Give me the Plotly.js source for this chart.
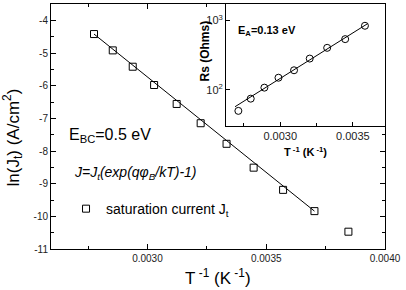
<!DOCTYPE html>
<html>
<head>
<meta charset="utf-8">
<script src="https://cdn.plot.ly/plotly-3.0.1.min.js"></script>
<style>
  html, body { margin: 0; padding: 0; background: #fff; }
  #chart { width: 406px; height: 290px; }
</style>
</head>
<body>
<div id="chart"></div>
<script>
// Saturation current vs inverse temperature (main panel)
const invT = [0.002775, 0.002854, 0.002938, 0.003028, 0.003123, 0.003224,
              0.003333, 0.003447, 0.003571, 0.003703, 0.003846];
const lnJt = [-4.42, -4.92, -5.42, -5.98, -6.56, -7.15,
              -7.78, -8.51, -9.19, -9.84, -10.47];
// Arrhenius fit through the saturation current points
const fitX = [0.002775, 0.003703];
const fitY = [-4.42, -9.84];

// Series resistance vs inverse temperature (inset)
const insetInvT = [0.002712, 0.002797, 0.002891, 0.002988, 0.003095,
                   0.003203, 0.003323, 0.003447, 0.003583];
const rs = [50, 75, 108, 150, 192, 283, 404, 539, 839];
const insetFitX = [0.002689, 0.003600];
const insetFitY = [57.4, 896];

// Tick labels
const yTickVals = [-11, -10, -9, -8, -7, -6, -5, -4];
const yTickText = ['-11', '-10', '-9', '-8', '-7', '-6', '-5', '-4'];
const insetYTickVals = [100, 1000];
const insetYTickText = ['10<sup>2</sup>', '10<sup>3</sup>'];

const FONT = 'Arial, "Liberation Sans", sans-serif';

const traces = [
  {
    x: fitX, y: fitY, type: 'scatter', mode: 'lines',
    line: { color: '#000', width: 1 }, showlegend: false, hoverinfo: 'skip'
  },
  {
    x: invT, y: lnJt, type: 'scatter', mode: 'markers',
    name: 'saturation current J<sub>t</sub>',
    marker: { symbol: 'square-open', size: 7, color: '#000', line: { width: 1, color: '#000' } }
  },
  {
    x: insetFitX, y: insetFitY, xaxis: 'x2', yaxis: 'y2',
    type: 'scatter', mode: 'lines',
    line: { color: '#000', width: 1 }, showlegend: false, hoverinfo: 'skip'
  },
  {
    x: insetInvT, y: rs, xaxis: 'x2', yaxis: 'y2',
    type: 'scatter', mode: 'markers', showlegend: false,
    marker: { symbol: 'circle-open', size: 7, color: '#000', line: { width: 1, color: '#000' } }
  }
];

const layout = {
  width: 406, height: 290,
  margin: { l: 51, r: 21, t: 4, b: 41 },
  paper_bgcolor: '#fff', plot_bgcolor: '#fff',
  font: { family: FONT, color: '#000' },
  showlegend: true,
  legend: {
    x: 0.045, y: 0.163, xanchor: 'left', yanchor: 'middle',
    bgcolor: 'rgba(0,0,0,0)', borderwidth: 0,
    font: { family: FONT, size: 14, color: '#000' }
  },
  xaxis: {
    range: [0.002594, 0.0040],
    domain: [0, 1],
    tickmode: 'linear', tick0: 0, dtick: 0.0005, tickformat: '.4f',
    ticks: 'inside', ticklen: 5, tickcolor: '#000', tickwidth: 1,
    minor: { dtick: 0.00025, tick0: 0, ticks: 'inside', ticklen: 3, tickcolor: '#000' },
    showline: true, linecolor: '#000', linewidth: 1, mirror: 'ticks',
    showgrid: false, zeroline: false,
    tickfont: { family: FONT, size: 10, color: '#222' }
  },
  yaxis: {
    range: [-11, -3.5],
    domain: [0, 1],
    tickmode: 'array', tickvals: yTickVals, ticktext: yTickText,
    ticks: 'inside', ticklen: 5, tickcolor: '#000', tickwidth: 1,
    minor: { dtick: 0.5, tick0: 0, ticks: 'inside', ticklen: 3, tickcolor: '#000' },
    showline: true, linecolor: '#000', linewidth: 1, mirror: 'ticks',
    showgrid: false, zeroline: false,
    tickfont: { family: FONT, size: 10, color: '#222' }
  },
  xaxis2: {
    anchor: 'y2',
    domain: [0.524, 1],
    range: [0.002627, 0.003721],
    tickmode: 'linear', tick0: 0, dtick: 0.0005, tickformat: '.4f',
    ticks: 'inside', ticklen: 4, tickcolor: '#000',
    minor: { dtick: 0.00025, tick0: 0, ticks: 'inside', ticklen: 3, tickcolor: '#000' },
    showline: true, linecolor: '#000', linewidth: 1, mirror: false,
    showgrid: false, zeroline: false,
    tickfont: { family: FONT, size: 11, color: '#222' },
    title: { text: '<b>T<sup> -1</sup> (K<sup> -1</sup>)</b>', font: { family: FONT, size: 11, color: '#000' }, standoff: 7 }
  },
  yaxis2: {
    anchor: 'x2',
    domain: [0.503, 1],
    type: 'log',
    range: [1.485, 3.237],
    tickmode: 'array', tickvals: insetYTickVals, ticktext: insetYTickText,
    ticks: 'inside', ticklen: 4, tickcolor: '#000',
    showline: true, linecolor: '#000', linewidth: 1, mirror: false,
    showgrid: false, zeroline: false,
    tickfont: { family: FONT, size: 11, color: '#222' }
  },
  annotations: [
    {
      // main x-axis title
      xref: 'paper', yref: 'paper', x: 0.5, y: -0.166,
      text: 'T<sup> -1</sup> (K<sup> -1</sup>)', showarrow: false,
      xanchor: 'center', yanchor: 'bottom',
      font: { family: FONT, size: 17, color: '#000' }
    },
    {
      // main y-axis title
      xref: 'paper', yref: 'paper', x: -0.114, y: 0.455,
      text: 'ln(J<sub>t</sub>) (A/cm<sup>2</sup>)', textangle: -90, showarrow: false,
      xanchor: 'center', yanchor: 'middle',
      font: { family: FONT, size: 17, color: '#000' }
    },
    {
      // inset y-axis title
      xref: 'paper', yref: 'paper', x: 0.461, y: 0.81,
      text: '<b>Rs (Ohms)</b>', textangle: -90, showarrow: false,
      xanchor: 'center', yanchor: 'middle',
      font: { family: FONT, size: 12, color: '#000' }
    },
    {
      xref: 'x2 domain', yref: 'y2 domain', x: 0.06, y: 0.78,
      text: '<b>E<sub>A</sub>=0.13 eV</b>', showarrow: false,
      xanchor: 'left', yanchor: 'middle',
      font: { family: FONT, size: 11, color: '#000' }
    },
    {
      xref: 'paper', yref: 'paper', x: 0.048, y: 0.465,
      text: 'E<sub>BC</sub>=0.5 eV', showarrow: false,
      xanchor: 'left', yanchor: 'middle',
      font: { family: FONT, size: 16, color: '#000' }
    },
    {
      xref: 'paper', yref: 'paper', x: 0.062, y: 0.31,
      text: '<i>J=J<sub>t</sub>(exp(qφ<sub>B</sub>/kT)-1)</i>', showarrow: false,
      xanchor: 'left', yanchor: 'middle',
      font: { family: FONT, size: 14, color: '#000' }
    }
  ]
};

Plotly.newPlot('chart', traces, layout, { displayModeBar: false, staticPlot: true });
</script>
</body>
</html>
